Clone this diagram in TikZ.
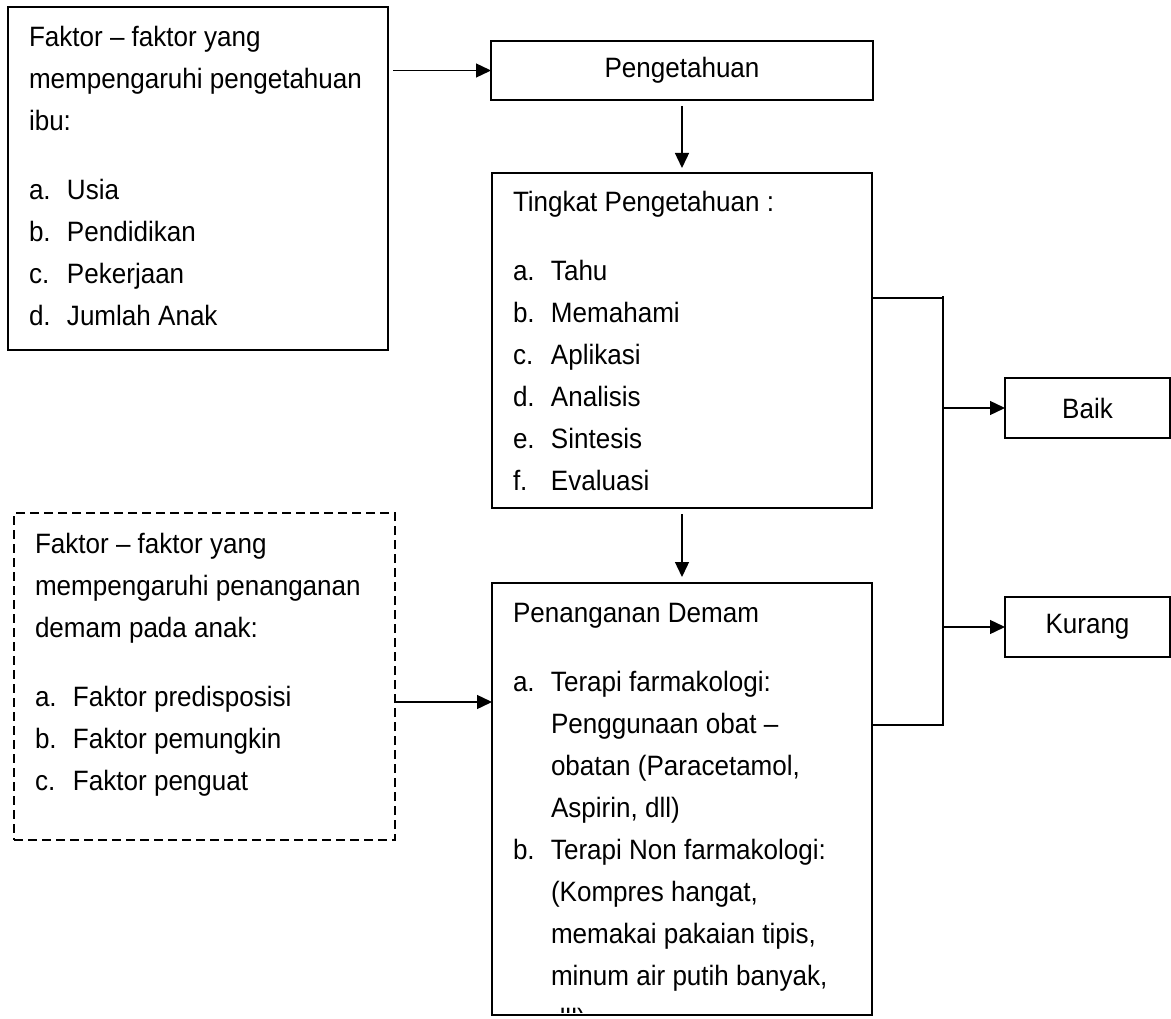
\documentclass[tikz,border=0pt]{standalone}
\usepackage{fontspec}
\setmainfont{Liberation Sans}[FakeStretch=0.93]
\usetikzlibrary{arrows.meta}
\newcommand\dgItem[2]{\hbox{\makebox[38pt][l]{#1}#2}}
\newcommand\dgCont[1]{\hbox{\hspace*{38pt}#1}}
\newcommand\dgLine[1]{\hbox{#1}}
\newcommand\dgGap{\vskip27pt}
\newcommand\dgStack[1]{\vtop{\baselineskip=42pt\lineskiplimit=-1000pt\lineskip=0pt #1}}
\begin{document}
\begin{tikzpicture}[x=1pt,y=-1pt,
  every node/.style={font=\fontsize{28pt}{42pt}\selectfont, inner sep=0pt, outer sep=0pt},
  box/.style={draw, line width=2.8pt, rectangle},
  dbox/.style={draw, line width=2.5pt, dash pattern=on 9pt off 5pt, rectangle},
  txt/.style={anchor=base west},
  conn/.style={line width=1.4pt},
  arr/.style={conn, -{Triangle[length=15pt,width=14pt]}}]
\useasboundingbox (0,0) rectangle (1171,1019);

% boxes
\node[box, minimum width=380pt, minimum height=343pt] (b1) at (198,178.5) {};
\node[box, minimum width=382pt, minimum height=59pt] (pg) at (682,70.5) {Pengetahuan};
\node[box, minimum width=380pt, minimum height=335pt] (tk) at (682,340.5) {};
\node[box, minimum width=380pt, minimum height=432pt] (pn) at (682,799) {};
\node[dbox, minimum width=381pt, minimum height=327pt] (ds) at (204.5,676.5) {};
\node[box, minimum width=165pt, minimum height=60pt] (bk) at (1087.5,408) {Baik};
\node[box, minimum width=165pt, minimum height=60pt] (kr) at (1087.5,627) {Kurang};

% texts
\node[txt] (t1) at (29,47) {\dgStack{%
  \dgLine{Faktor – faktor yang}%
  \dgLine{mempengaruhi pengetahuan}%
  \dgLine{ibu:}\dgGap
  \dgItem{a.}{Usia}%
  \dgItem{b.}{Pendidikan}%
  \dgItem{c.}{Pekerjaan}%
  \dgItem{d.}{Jumlah Anak}}};

\node[txt] (t2) at (513,212) {\dgStack{%
  \dgLine{Tingkat Pengetahuan :}\dgGap
  \dgItem{a.}{Tahu}%
  \dgItem{b.}{Memahami}%
  \dgItem{c.}{Aplikasi}%
  \dgItem{d.}{Analisis}%
  \dgItem{e.}{Sintesis}%
  \dgItem{f.}{Evaluasi}}};

\node[txt] (t3) at (35,553) {\dgStack{%
  \dgLine{Faktor – faktor yang}%
  \dgLine{mempengaruhi penanganan}%
  \dgLine{demam pada anak:}\dgGap
  \dgItem{a.}{Faktor predisposisi}%
  \dgItem{b.}{Faktor pemungkin}%
  \dgItem{c.}{Faktor penguat}}};

\begin{scope}
\clip (494,585) rectangle (870,1012.5);
\node[txt] (t4) at (513,622) {\dgStack{%
  \dgLine{Penanganan Demam}\dgGap
  \dgItem{a.}{Terapi farmakologi:}%
  \dgCont{Penggunaan obat –}%
  \dgCont{obatan (Paracetamol,}%
  \dgCont{Aspirin, dll)}%
  \dgItem{b.}{Terapi Non farmakologi:}%
  \dgCont{(Kompres hangat,}%
  \dgCont{memakai pakaian tipis,}%
  \dgCont{minum air putih banyak,}%
  \vskip1pt\dgCont{dll)}}};
\end{scope}

% connectors
\draw[arr, shorten <=5pt] (b1.east |- pg.west) -- (pg.west);
\draw[arr, shorten <=6pt, shorten >=5pt] (pg.south) -- (tk.north);
\draw[arr, shorten <=6pt, shorten >=6pt] (tk.south) -- (pn.north);
\coordinate (dsa) at ([yshift=-25.5pt]ds.east);
\draw[arr] (dsa) -- (dsa -| pn.west);

\coordinate (jt) at (943,298);
\coordinate (jb) at (943,725);
\draw[conn] (tk.east |- jt) -- (jt) -- (jb) -- (pn.east |- jb);
\draw[conn] (jt) -- ++(0,-2);
\draw[arr] (jt |- bk.west) -- (bk.west);
\draw[arr] (jt |- kr.west) -- (kr.west);
\end{tikzpicture}
\end{document}
